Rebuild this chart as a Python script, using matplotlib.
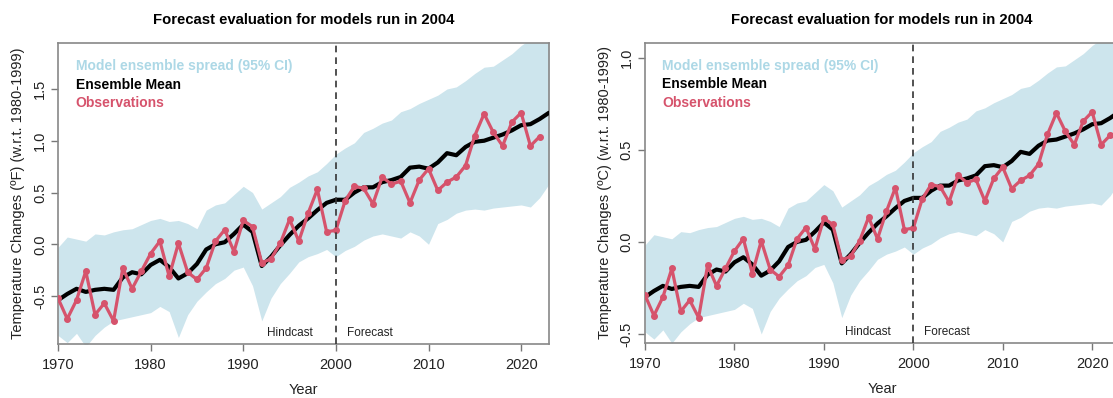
import numpy as np
import matplotlib
matplotlib.use("Agg")
import matplotlib.pyplot as plt

plt.rcParams['font.family'] = ['Liberation Sans', 'DejaVu Sans']

# years
years = np.arange(1970, 2024)
obs_years = np.arange(1970, 2023)

# ensemble mean (degF), 1970-2023
mean_f = [-0.54, -0.48, -0.43, -0.46, -0.44, -0.43, -0.44, -0.32, -0.27, -0.29,
          -0.20, -0.15, -0.22, -0.33, -0.28, -0.19, -0.05, 0.00, 0.02, 0.10,
          0.19, 0.12, -0.21, -0.12, -0.01, 0.09, 0.18, 0.25, 0.33, 0.40,
          0.43, 0.43, 0.50, 0.55, 0.55, 0.60, 0.62, 0.65, 0.74, 0.75,
          0.73, 0.79, 0.88, 0.86, 0.94, 0.99, 1.00, 1.03, 1.06, 1.10,
          1.15, 1.16, 1.21, 1.27]

# 95% CI of the model ensemble (degF), 1970-2023
upper_f = [-0.03, 0.07, 0.05, 0.03, 0.10, 0.09, 0.12, 0.14, 0.15, 0.19,
           0.23, 0.25, 0.22, 0.23, 0.20, 0.15, 0.33, 0.38, 0.40, 0.48,
           0.56, 0.50, 0.34, 0.40, 0.46, 0.55, 0.60, 0.66, 0.70, 0.78,
           0.87, 0.93, 0.98, 1.08, 1.12, 1.17, 1.20, 1.28, 1.31, 1.36,
           1.40, 1.44, 1.50, 1.52, 1.58, 1.65, 1.71, 1.72, 1.78, 1.84,
           1.92, 1.98, 2.02, 2.08]
lower_f = [-0.88, -0.95, -0.86, -0.99, -0.88, -0.80, -0.74, -0.72, -0.70, -0.68,
           -0.66, -0.60, -0.65, -0.90, -0.68, -0.55, -0.46, -0.38, -0.33, -0.25,
           -0.22, -0.40, -0.74, -0.52, -0.38, -0.28, -0.17, -0.12, -0.09, -0.05,
           -0.12, -0.06, -0.02, 0.04, 0.08, 0.10, 0.08, 0.06, 0.12, 0.08,
           0.00, 0.20, 0.24, 0.30, 0.33, 0.34, 0.33, 0.35, 0.36, 0.37,
           0.38, 0.36, 0.45, 0.58]

# observations (degF), 1970-2022
obs_f = [-0.52, -0.72, -0.54, -0.26, -0.68, -0.57, -0.74, -0.23, -0.43, -0.26,
         -0.09, 0.03, -0.31, 0.01, -0.27, -0.34, -0.23, 0.03, 0.14, -0.07,
         0.23, 0.17, -0.18, -0.14, 0.01, 0.24, 0.03, 0.30, 0.53, 0.12,
         0.135, 0.42, 0.56, 0.54, 0.39, 0.65, 0.58, 0.61, 0.40, 0.62,
         0.73, 0.52, 0.60, 0.65, 0.76, 1.05, 1.26, 1.08, 0.95, 1.18,
         1.27, 0.95, 1.04]

fill_col = "#cde5ed"
red = "#d6536c"
title = "Forecast evaluation for models run in 2004"

fig = plt.figure(figsize=(11.13, 3.98), dpi=100)

panels = [
    # (axes rect, unit factor, ylim, yticks, ylabel)
    ([0.0521, 0.1357, 0.4411, 0.7563], 1.0, (-0.963, 1.944), [-0.5, 0.0, 0.5, 1.0, 1.5],
     "Temperature Changes (ºF) (w.r.t. 1980-1999)"),
    ([0.5795, 0.1382, 0.4259, 0.7538], 1 / 1.8, (-0.549, 1.08), [-0.5, 0.0, 0.5, 1.0],
     "Temperature Changes (ºC) (w.r.t. 1980-1999)"),
]

for rect, k, ylim, yticks, ylab in panels:
    ax = fig.add_axes(rect)
    ax.fill_between(years, np.array(lower_f) * k, np.array(upper_f) * k,
                    color=fill_col, lw=0, zorder=1)
    ax.plot(years, np.array(mean_f) * k, color="black", lw=3.0, zorder=3,
            solid_capstyle="round")
    ax.plot(obs_years, np.array(obs_f) * k, color=red, lw=2.3, marker="o",
            ms=4, zorder=4)
    ax.axvline(2000, color="#333333", lw=1.2, ls=(0, (4, 3)), zorder=5)

    ax.set_xlim(1970, 2023)
    ax.set_ylim(*ylim)
    ax.set_xticks([1970, 1980, 1990, 2000, 2010, 2020])
    ax.set_yticks(yticks)
    ax.set_yticklabels([f"{v:.1f}" for v in yticks], rotation=90, va="center")
    ax.tick_params(colors="#777777", labelcolor="#222222", labelsize=10.5,
                   length=5, width=1)
    ax.tick_params(axis="x", pad=5)
    ax.tick_params(axis="y", pad=3)
    for s in ax.spines.values():
        s.set_color("#888888")
        s.set_linewidth(1.2)

    ax.set_xlabel("Year", fontsize=10.5, color="#222222", labelpad=8)
    ax.set_ylabel(ylab, fontsize=10.5, color="#222222", labelpad=6)

    ax.text(0.5, 1.052, title, transform=ax.transAxes, ha="center", va="bottom",
            fontsize=10.7, fontweight="bold")

    ax.text(0.036, 0.922, "Model ensemble spread (95% CI)", transform=ax.transAxes,
            color="#add8e6", fontsize=10, fontweight="bold", va="center")
    ax.text(0.036, 0.862, "Ensemble Mean", transform=ax.transAxes,
            color="black", fontsize=10, fontweight="bold", va="center")
    ax.text(0.036, 0.800, "Observations", transform=ax.transAxes,
            color=red, fontsize=10, fontweight="bold", va="center")

    ax.text(1997.5, 0.037, "Hindcast", transform=ax.get_xaxis_transform(),
            ha="right", va="center", fontsize=8.5, color="#222222")
    ax.text(2001.2, 0.037, "Forecast", transform=ax.get_xaxis_transform(),
            ha="left", va="center", fontsize=8.5, color="#222222")

fig.savefig("out.png", dpi=100)
